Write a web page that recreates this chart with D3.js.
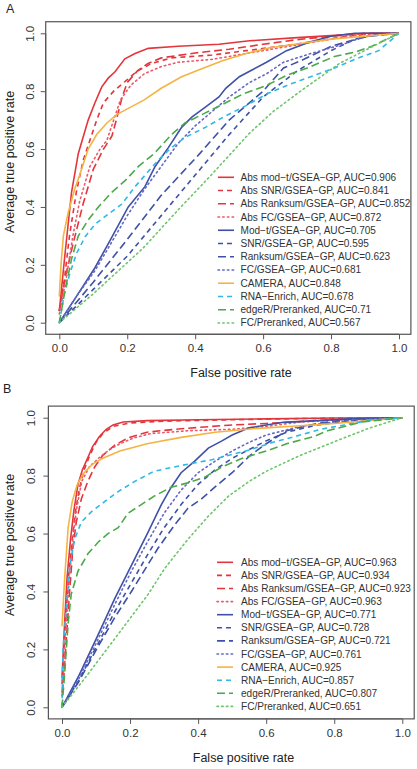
<!DOCTYPE html>
<html><head><meta charset="utf-8">
<script src="https://cdn.jsdelivr.net/npm/d3@7"></script>
<style>html,body{margin:0;padding:0;background:#fff;}svg{display:block;}</style>
</head><body>
<svg id="chart" width="417" height="769"></svg>
<script>
// ---------- DATA ----------
const methods = ["Abs mod\u2212t/GSEA\u2212GP","Abs SNR/GSEA\u2212GP","Abs Ranksum/GSEA\u2212GP","Abs FC/GSEA\u2212GP",
  "Mod\u2212t/GSEA\u2212GP","SNR/GSEA\u2212GP","Ranksum/GSEA\u2212GP","FC/GSEA\u2212GP",
  "CAMERA","RNA\u2212Enrich","edgeR/Preranked","FC/Preranked"];
const aucA = ["0.906","0.841","0.852","0.872","0.705","0.595","0.623","0.681","0.848","0.678","0.71","0.567"];
const aucB = ["0.963","0.934","0.923","0.963","0.771","0.728","0.721","0.761","0.925","0.857","0.807","0.651"];
const xTicks = [0,0.2,0.4,0.6,0.8,1.0];
const yTicks = [0,0.2,0.4,0.6,0.8,1.0];

// Panel A curves [FPR, TPR]
const A_absModT = [[0,0.04],[0.017,0.24],[0.036,0.45],[0.056,0.585],[0.085,0.70],[0.105,0.76],[0.125,0.815],[0.144,0.845],[0.164,0.867],[0.193,0.912],[0.223,0.93],[0.262,0.948],[0.35,0.955],[0.47,0.962],[0.56,0.974],[0.7,0.985],[0.8,0.992],[0.9,1],[1,1]];
const A_absSNR = [[0,0.04],[0.015,0.15],[0.03,0.3],[0.05,0.45],[0.07,0.56],[0.09,0.63],[0.11,0.7],[0.13,0.76],[0.16,0.80],[0.2,0.84],[0.23,0.87],[0.27,0.895],[0.33,0.915],[0.45,0.925],[0.55,0.94],[0.65,0.955],[0.75,0.972],[0.85,0.99],[0.93,1],[1,1]];
const A_absRanksum = [[0,0.04],[0.02,0.17],[0.04,0.27],[0.07,0.41],[0.1,0.53],[0.13,0.6],[0.155,0.645],[0.17,0.71],[0.185,0.78],[0.2,0.83],[0.23,0.87],[0.26,0.895],[0.3,0.915],[0.4,0.932],[0.5,0.945],[0.6,0.962],[0.7,0.978],[0.8,0.99],[0.9,1],[1,1]];
const A_absFC = [[0,0.03],[0.02,0.15],[0.04,0.3],[0.06,0.42],[0.09,0.54],[0.12,0.6],[0.14,0.63],[0.16,0.7],[0.18,0.77],[0.21,0.82],[0.25,0.86],[0.3,0.885],[0.35,0.9],[0.45,0.91],[0.55,0.93],[0.65,0.95],[0.75,0.97],[0.85,0.99],[0.93,1],[1,1]];
const A_modT = [[0,0],[0.05,0.09],[0.105,0.19],[0.15,0.285],[0.203,0.40],[0.252,0.47],[0.282,0.54],[0.321,0.605],[0.36,0.675],[0.39,0.71],[0.43,0.745],[0.47,0.78],[0.49,0.81],[0.53,0.85],[0.57,0.875],[0.61,0.9],[0.669,0.94],[0.737,0.97],[0.8,0.99],[0.87,1],[1,1]];
const A_snr = [[0,0],[0.1,0.115],[0.2,0.23],[0.3,0.37],[0.4,0.51],[0.5,0.65],[0.6,0.78],[0.7,0.87],[0.8,0.94],[0.87,0.98],[0.93,0.995],[1,1]];
const A_ranksum = [[0,0],[0.1,0.14],[0.198,0.285],[0.3,0.44],[0.414,0.585],[0.5,0.70],[0.55,0.75],[0.6,0.8],[0.66,0.88],[0.72,0.91],[0.8,0.955],[0.86,0.975],[0.91,0.99],[1,1]];
const A_fc = [[0,0],[0.05,0.09],[0.105,0.18],[0.15,0.27],[0.2,0.37],[0.25,0.46],[0.3,0.54],[0.35,0.62],[0.4,0.68],[0.45,0.73],[0.5,0.78],[0.56,0.83],[0.61,0.86],[0.66,0.9],[0.74,0.93],[0.83,0.96],[0.9,0.99],[1,1]];
const A_camera = [[0,0.09],[0.005,0.2],[0.012,0.3],[0.026,0.38],[0.045,0.46],[0.06,0.51],[0.085,0.6],[0.11,0.65],[0.14,0.69],[0.17,0.72],[0.21,0.745],[0.25,0.77],[0.3,0.81],[0.36,0.85],[0.41,0.873],[0.48,0.905],[0.55,0.93],[0.62,0.95],[0.71,0.965],[0.8,0.98],[0.9,0.99],[1,1]];
const A_rnaEnrich = [[0,0],[0.015,0.1],[0.031,0.17],[0.051,0.24],[0.076,0.297],[0.105,0.34],[0.144,0.375],[0.184,0.41],[0.223,0.47],[0.29,0.56],[0.33,0.605],[0.37,0.64],[0.43,0.675],[0.49,0.715],[0.55,0.75],[0.61,0.79],[0.67,0.82],[0.74,0.85],[0.81,0.88],[0.87,0.91],[0.94,0.94],[1,1]];
const A_edgeR = [[0,0],[0.015,0.1],[0.036,0.22],[0.056,0.30],[0.085,0.355],[0.115,0.40],[0.154,0.45],[0.193,0.49],[0.233,0.54],[0.28,0.585],[0.33,0.65],[0.37,0.69],[0.43,0.725],[0.49,0.76],[0.54,0.79],[0.61,0.82],[0.67,0.855],[0.74,0.885],[0.81,0.92],[0.87,0.935],[0.92,0.955],[1,1]];
const A_fcPre = [[0,0],[0.1,0.1],[0.246,0.257],[0.35,0.39],[0.443,0.505],[0.56,0.655],[0.63,0.73],[0.71,0.8],[0.825,0.896],[0.94,0.965],[1,1]];

// Panel B curves [FPR, TPR]
const B_absModT = [[0,0.1],[0.008,0.3],[0.015,0.45],[0.025,0.58],[0.035,0.68],[0.047,0.77],[0.06,0.82],[0.075,0.86],[0.09,0.9],[0.11,0.935],[0.13,0.96],[0.15,0.975],[0.18,0.985],[0.25,0.99],[0.4,0.993],[0.6,0.996],[0.8,0.999],[1,1]];
const B_absSNR = [[0,0.08],[0.01,0.28],[0.02,0.46],[0.03,0.58],[0.04,0.68],[0.052,0.76],[0.065,0.82],[0.08,0.865],[0.1,0.915],[0.12,0.945],[0.15,0.97],[0.2,0.982],[0.3,0.988],[0.5,0.993],[0.7,0.997],[1,1]];
const B_absRanksum = [[0,0.05],[0.005,0.1],[0.013,0.24],[0.023,0.41],[0.032,0.55],[0.042,0.64],[0.057,0.72],[0.076,0.78],[0.096,0.83],[0.12,0.87],[0.155,0.905],[0.194,0.93],[0.25,0.95],[0.35,0.962],[0.5,0.975],[0.6,0.98],[0.75,0.99],[0.9,0.998],[1,1]];
const B_absFC = [[0,0.04],[0.003,0.08],[0.01,0.25],[0.02,0.42],[0.03,0.56],[0.042,0.68],[0.058,0.78],[0.08,0.83],[0.112,0.865],[0.14,0.89],[0.17,0.91],[0.21,0.93],[0.26,0.945],[0.37,0.955],[0.5,0.96],[0.6,0.97],[0.7,0.985],[0.85,0.995],[1,1]];
const B_modT = [[0,0],[0.05,0.11],[0.106,0.25],[0.155,0.375],[0.204,0.49],[0.253,0.605],[0.292,0.7],[0.321,0.76],[0.35,0.81],[0.39,0.85],[0.43,0.895],[0.47,0.92],[0.5,0.94],[0.55,0.965],[0.65,0.984],[0.75,0.99],[0.85,0.996],[1,1]];
const B_snr = [[0,0],[0.05,0.095],[0.106,0.22],[0.155,0.33],[0.204,0.43],[0.253,0.53],[0.3,0.62],[0.35,0.7],[0.4,0.77],[0.45,0.82],[0.5,0.86],[0.55,0.89],[0.6,0.92],[0.66,0.95],[0.75,0.975],[0.85,0.99],[1,1]];
const B_ranksum = [[0,0],[0.05,0.09],[0.106,0.21],[0.155,0.31],[0.204,0.40],[0.282,0.549],[0.331,0.63],[0.37,0.687],[0.41,0.72],[0.449,0.76],[0.5,0.81],[0.553,0.87],[0.6,0.91],[0.66,0.955],[0.75,0.98],[0.85,0.995],[1,1]];
const B_fc = [[0,0],[0.05,0.1],[0.106,0.235],[0.155,0.355],[0.204,0.47],[0.253,0.575],[0.3,0.67],[0.35,0.75],[0.4,0.81],[0.45,0.85],[0.5,0.885],[0.55,0.915],[0.6,0.94],[0.7,0.97],[0.8,0.985],[0.9,0.995],[1,1]];
const B_camera = [[0,0.28],[0.008,0.45],[0.018,0.62],[0.03,0.71],[0.045,0.77],[0.065,0.81],[0.09,0.84],[0.12,0.86],[0.17,0.885],[0.25,0.91],[0.35,0.932],[0.45,0.95],[0.56,0.962],[0.7,0.972],[0.8,0.98],[0.9,0.99],[1,1]];
const B_rnaEnrich = [[0,0],[0.003,0.2],[0.013,0.35],[0.023,0.49],[0.037,0.58],[0.057,0.64],[0.086,0.675],[0.125,0.71],[0.165,0.745],[0.214,0.78],[0.27,0.815],[0.35,0.835],[0.44,0.855],[0.54,0.885],[0.62,0.915],[0.7,0.94],[0.76,0.96],[0.83,0.975],[0.9,0.99],[1,1]];
const B_edgeR = [[0,0],[0.008,0.12],[0.018,0.29],[0.027,0.39],[0.047,0.47],[0.076,0.53],[0.106,0.57],[0.135,0.6],[0.165,0.62],[0.194,0.67],[0.233,0.70],[0.272,0.73],[0.321,0.76],[0.37,0.775],[0.42,0.795],[0.47,0.83],[0.53,0.86],[0.6,0.885],[0.66,0.91],[0.74,0.935],[0.78,0.955],[0.88,0.985],[1,1]];
const B_fcPre = [[0,0],[0.08,0.12],[0.17,0.26],[0.253,0.39],[0.302,0.48],[0.37,0.58],[0.43,0.66],[0.49,0.73],[0.55,0.78],[0.6,0.815],[0.7,0.87],[0.8,0.917],[0.9,0.963],[1,1]];

const curvesA = [A_absModT,A_absSNR,A_absRanksum,A_absFC,A_modT,A_snr,A_ranksum,A_fc,A_camera,A_rnaEnrich,A_edgeR,A_fcPre];
const curvesB = [B_absModT,B_absSNR,B_absRanksum,B_absFC,B_modT,B_snr,B_ranksum,B_fc,B_camera,B_rnaEnrich,B_edgeR,B_fcPre];

// ---------- STYLES ----------
const RED="#e3363c", BLUE="#3e51a6", ORANGE="#f5b342", CYAN="#31b8e6", GREEN="#4aaa48", LGREEN="#6cc66a", PINK="#ea5a6a", PURPLE="#6567c4";
const DASH="5,4", LONG="8,4", DOT="1.5,3.2";
const LW = 1.6;
const styles = [
  {c:RED,d:null},{c:RED,d:DASH},{c:RED,d:LONG},{c:PINK,d:DOT},
  {c:BLUE,d:null},{c:BLUE,d:DASH},{c:BLUE,d:LONG},{c:PURPLE,d:DOT},
  {c:ORANGE,d:null},{c:CYAN,d:DASH},{c:GREEN,d:LONG},{c:LGREEN,d:DOT}
];

const FONT = "'Liberation Sans', Arial, Helvetica, sans-serif";
const svg = d3.select("#chart");

function panel(cfg){
  const x = d3.scaleLinear().domain([0,1]).range([cfg.x0, cfg.x1]);
  const y = d3.scaleLinear().domain([0,1]).range([cfg.y0, cfg.y1]);
  const g = svg.append("g");
  const fl = x(-0.04), fr = x(1.035), ft = y(1.04), fb = y(-0.04);

  const line = d3.line().x(d=>x(d[0])).y(d=>y(d[1]));
  cfg.curves.forEach((c,i)=>{
    g.append("path").attr("d", line(c)).attr("fill","none")
      .attr("stroke", styles[i].c).attr("stroke-width",LW)
      .attr("stroke-dasharray", styles[i].d)
      .attr("stroke-linecap", styles[i].d===DOT ? "round" : "butt");
  });

  g.append("rect").attr("x",fl).attr("y",ft).attr("width",fr-fl).attr("height",fb-ft)
    .attr("fill","none").attr("stroke","#555").attr("stroke-width",1.2);

  const xa = g.append("g").attr("transform",`translate(0,${fb})`)
    .call(d3.axisBottom(x).tickValues(xTicks).tickFormat(d3.format(".1f")).tickSize(5).tickPadding(5));
  xa.select(".domain").attr("d",`M${x(0)},0H${x(1)}`).attr("stroke","#555");
  xa.selectAll(".tick line").attr("stroke","#555");
  xa.selectAll("text").attr("font-family",FONT).attr("font-size",11.5).attr("fill","#333");

  const ya = g.append("g").attr("transform",`translate(${fl},0)`)
    .call(d3.axisLeft(y).tickValues(yTicks).tickFormat(d3.format(".1f")).tickSize(5));
  ya.select(".domain").attr("d",`M0,${y(0)}V${y(1)}`).attr("stroke","#555");
  ya.selectAll(".tick line").attr("stroke","#555");
  ya.selectAll("text").attr("font-family",FONT).attr("font-size",11.5).attr("fill","#333")
    .attr("x",0).attr("dy",null).attr("text-anchor","middle")
    .attr("transform",`translate(${cfg.ylabX - fl},0) rotate(-90)`)
    .attr("dominant-baseline","central");

  g.append("text").attr("x",cfg.xtitleX).attr("y",cfg.xtitleY).attr("text-anchor","middle")
    .attr("font-family",FONT).attr("font-size",12.5).attr("fill","#222").text("False positive rate");
  g.append("text").attr("transform",`translate(${cfg.ytitleX},${cfg.ytitleY}) rotate(-90)`)
    .attr("text-anchor","middle").attr("dominant-baseline","central")
    .attr("font-family",FONT).attr("font-size",12.5).attr("fill","#222").text("Average true positive rate");
  g.append("text").attr("x",cfg.labX).attr("y",cfg.labY).attr("font-family",FONT)
    .attr("font-size",12.5).attr("fill","#222").text(cfg.label);

  const lg = g.append("g");
  const texts = [];
  methods.forEach((m,i)=>{
    const yy = cfg.legY + i*cfg.legDy;
    lg.append("line").attr("x1",cfg.legX1).attr("x2",cfg.legX2).attr("y1",yy).attr("y2",yy)
      .attr("stroke",styles[i].c).attr("stroke-width",LW).attr("stroke-dasharray",styles[i].d)
      .attr("stroke-linecap", styles[i].d===DOT ? "round" : "butt");
    texts.push(lg.append("text").attr("x",cfg.legTx).attr("y",yy).attr("dominant-baseline","central")
      .attr("font-family",FONT).attr("font-size",11).attr("fill","#333")
      .text(`${m}, AUC=${cfg.auc[i]}`));
  });
  const maxW = d3.max(texts, t => t.node().getComputedTextLength());
  const fs = 11 * (cfg.legRight - cfg.legTx) / maxW;
  texts.forEach(t => t.attr("font-size", fs));
}

panel({curves:curvesA, auc:aucA, label:"A", x0:59.3, x1:399, y0:322.7, y1:33.3, ylabX:30,
  xtitleX:241, xtitleY:377, ytitleX:10, ytitleY:162, labX:6, labY:13,
  legY:177.3, legDy:13.24, legX1:218, legX2:234, legTx:240.5, legRight:410.5});
panel({curves:curvesB, auc:aucB, label:"B", x0:62, x1:402.3, y0:707.3, y1:417.7, ylabX:31,
  xtitleX:243.5, xtitleY:762, ytitleX:10, ytitleY:545, labX:3, labY:393,
  legY:562.3, legDy:13.1, legX1:217, legX2:233, legTx:241, legRight:411});
</script>
</body></html>
